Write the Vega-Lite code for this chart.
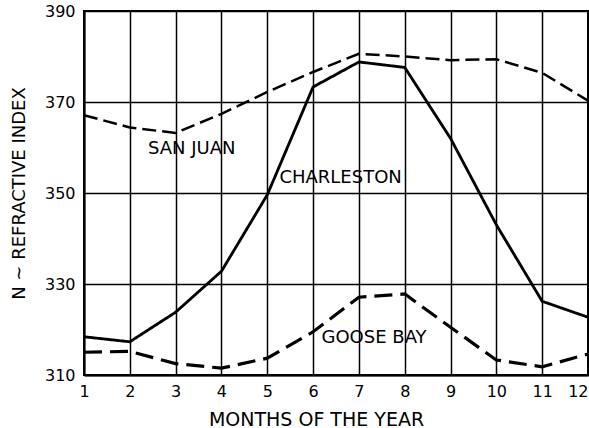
{
  "$schema": "https://vega.github.io/schema/vega-lite/v6.json",
  "width": 504,
  "height": 364,
  "autosize": {"type": "none"},
  "padding": {"left": 84, "top": 11, "right": 1, "bottom": 53},
  "background": "white",
  "config": {
    "view": {"stroke": "black", "strokeWidth": 2},
    "font": "DejaVu Sans",
    "axis": {
      "grid": true,
      "gridColor": "black",
      "gridWidth": 1.5,
      "gridOpacity": 1,
      "domainColor": "black",
      "domainWidth": 2,
      "ticks": false,
      "labelColor": "black",
      "titleColor": "black",
      "labelFontSize": 16,
      "titleFontSize": 18,
      "titleFontWeight": "normal",
      "labelFont": "DejaVu Sans",
      "titleFont": "DejaVu Sans"
    }
  },
  "datasets": {
    "lines": [
      {"station": "San Juan", "month": 1, "N": 367.1},
      {"station": "San Juan", "month": 2, "N": 364.4},
      {"station": "San Juan", "month": 3, "N": 363.2},
      {"station": "San Juan", "month": 4, "N": 367.4},
      {"station": "San Juan", "month": 5, "N": 372.2},
      {"station": "San Juan", "month": 6, "N": 376.6},
      {"station": "San Juan", "month": 7, "N": 380.6},
      {"station": "San Juan", "month": 8, "N": 380.0},
      {"station": "San Juan", "month": 9, "N": 379.2},
      {"station": "San Juan", "month": 10, "N": 379.4},
      {"station": "San Juan", "month": 11, "N": 376.4},
      {"station": "San Juan", "month": 12, "N": 370.3},
      {"station": "Charleston", "month": 1, "N": 318.4},
      {"station": "Charleston", "month": 2, "N": 317.3},
      {"station": "Charleston", "month": 3, "N": 323.8},
      {"station": "Charleston", "month": 4, "N": 332.8},
      {"station": "Charleston", "month": 5, "N": 349.6},
      {"station": "Charleston", "month": 6, "N": 373.3},
      {"station": "Charleston", "month": 7, "N": 378.8},
      {"station": "Charleston", "month": 8, "N": 377.6},
      {"station": "Charleston", "month": 9, "N": 362.0},
      {"station": "Charleston", "month": 10, "N": 343.0},
      {"station": "Charleston", "month": 11, "N": 326.2},
      {"station": "Charleston", "month": 12, "N": 322.7},
      {"station": "Goose Bay", "month": 1, "N": 315.0},
      {"station": "Goose Bay", "month": 2, "N": 315.2},
      {"station": "Goose Bay", "month": 3, "N": 312.5},
      {"station": "Goose Bay", "month": 4, "N": 311.5},
      {"station": "Goose Bay", "month": 5, "N": 313.7},
      {"station": "Goose Bay", "month": 6, "N": 319.5},
      {"station": "Goose Bay", "month": 7, "N": 327.1},
      {"station": "Goose Bay", "month": 8, "N": 327.8},
      {"station": "Goose Bay", "month": 9, "N": 320.5},
      {"station": "Goose Bay", "month": 10, "N": 313.3},
      {"station": "Goose Bay", "month": 11, "N": 311.8},
      {"station": "Goose Bay", "month": 12, "N": 314.6}
    ],
    "labels": [
      {"text": "SAN JUAN", "month": 3.35, "N": 359.6},
      {"text": "CHARLESTON", "month": 6.6, "N": 353.3},
      {"text": "GOOSE BAY", "month": 7.33, "N": 318.1}
    ]
  },
  "layer": [
    {
      "data": {"name": "lines"},
      "mark": {"type": "line", "color": "black", "strokeCap": "butt", "strokeJoin": "miter"},
      "encoding": {
        "x": {
          "field": "month", "type": "quantitative",
          "scale": {"domain": [1, 12], "nice": false, "zero": false},
          "axis": {
            "values": [1,2,3,4,5,6,7,8,9,10,11,12],
            "labelPadding": 8,
            "labelAlign": {"condition": {"test": "datum.value == 12", "value": "right"}, "value": "center"},
            "title": "MONTHS OF THE YEAR",
            "titleFontSize": 19,
            "titlePadding": 11,
            "titleX": 232,
            "labelFlush": false
          }
        },
        "y": {
          "field": "N", "type": "quantitative",
          "scale": {"domain": [310, 390], "nice": false, "zero": false},
          "axis": {
            "values": [310, 330, 350, 370, 390],
            "labelPadding": 9,
            "title": "N ~ REFRACTIVE INDEX",
            "titleX": -56,
            "labelFlush": false
          }
        },
        "detail": {"field": "station"},
        "strokeDash": {
          "field": "station", "type": "nominal",
          "scale": {"domain": ["San Juan", "Charleston", "Goose Bay"], "range": [[14, 6], [1, 0], [18, 8]]},
          "legend": null
        },
        "strokeWidth": {
          "field": "station", "type": "nominal",
          "scale": {"domain": ["San Juan", "Charleston", "Goose Bay"], "range": [2.5, 3.2, 2.5]},
          "legend": null
        },
        "order": {"field": "month"}
      }
    },
    {
      "data": {"name": "labels"},
      "mark": {"type": "text", "fontSize": 18, "color": "black", "font": "DejaVu Sans", "align": "center", "baseline": "middle"},
      "encoding": {
        "x": {"field": "month", "type": "quantitative"},
        "y": {"field": "N", "type": "quantitative"},
        "text": {"field": "text"}
      }
    }
  ]
}
